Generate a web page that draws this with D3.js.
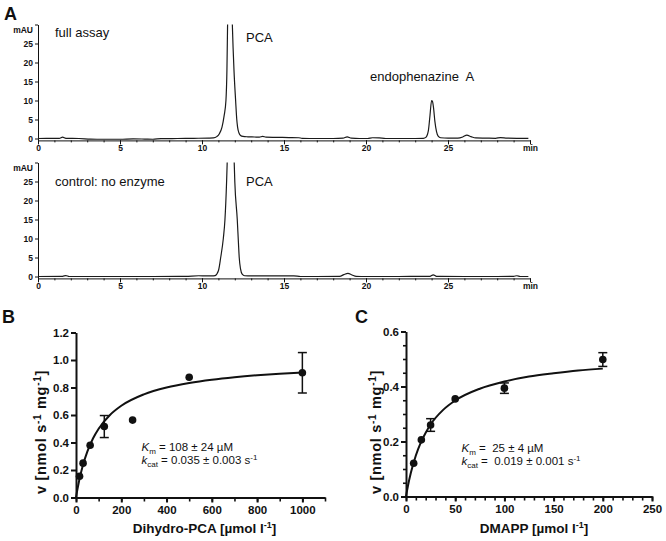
<!DOCTYPE html>
<html><head><meta charset="utf-8">
<script src="https://cdn.jsdelivr.net/npm/d3@7"></script>
<style>
body{margin:0;background:#fff}
svg{display:block}
text{font-family:"Liberation Sans",Arial,Helvetica,sans-serif;fill:#111}
</style>
</head><body>
<svg id="c" width="666" height="541"></svg>
<script>
// ---------- DATA ----------
// Panel A: HPLC chromatograms [time (min), absorbance (mAU)]
const timeTicks = [0, 5, 10, 15, 20, 25, 30];
const mauTicks = [0, 5, 10, 15, 20, 25, 30];
const fullAssayTrace = [
  [0,0],[0.5,0.05],[1.3,0.05],[1.5,0.35],[1.7,0.05],[2.5,0],[3.2,-0.15],[4,-0.2],[5,-0.2],[5.8,-0.1],
  [6.5,-0.15],[7,-0.2],[7.5,-0.05],[8.5,0],[9.5,0.05],[10.4,0.1],[10.7,0.15],[10.9,0.5],[11.05,1.2],
  [11.22,3],[11.35,6],[11.46,10],[11.52,18],[11.56,30],[11.7,60],[11.85,30],[11.95,18],[12.05,10],
  [12.12,5],[12.17,3],[12.25,1.5],[12.35,0.8],[12.5,0.55],[12.8,0.45],[13.2,0.4],[13.5,0.35],[13.7,0.55],
  [13.9,0.35],[14.5,0.3],[15.3,0.25],[15.9,0.2],[16.1,0.05],[17,0],[18,0],[18.6,0.1],[18.85,0.45],
  [19.1,0.1],[19.6,0],[20.1,0],[20.4,0.2],[20.8,0.15],[21.2,0],[22.5,0],[23.5,0.05],[23.65,0.3],
  [23.8,2],[23.9,6],[24.0,10],[24.05,9.8],[24.12,8],[24.2,4.5],[24.3,1.8],[24.4,0.6],[24.55,0.2],
  [25,0.1],[25.6,0.1],[25.9,0.4],[26.15,0.9],[26.4,0.5],[26.7,0.15],[27.3,0.1],[27.9,0.05],[28.2,0.25],
  [28.6,0.1],[29.2,0.05],[29.9,0.05]
];
const controlTrace = [
  [0,0],[1.5,0.05],[1.7,0.25],[1.9,0],[3,0],[5,0],[7,0],[9,0.05],[9.8,0.2],[10.3,0.15],[10.6,0.15],
  [10.8,0.25],[11.0,1.5],[11.14,5],[11.3,10],[11.4,15],[11.5,25],[11.55,32],[11.75,60],[11.95,32],
  [12.0,25],[12.15,15],[12.22,9],[12.27,5],[12.35,2],[12.45,0.6],[12.6,0.2],[13,0.15],[14,0.15],
  [15.6,0.15],[16,0],[17,0],[18.4,0.05],[18.65,0.5],[18.9,0.8],[19.15,0.4],[19.4,0.05],[20,0],[22,0],
  [23.9,0.05],[24.1,0.45],[24.3,0.05],[26,0],[28,0],[29,0.05],[29.2,0.2],[29.4,0],[29.9,0]
];

// Panel B: Dihydro-PCA kinetics
const pcaConc = [15.6, 31.25, 62.5, 125, 250, 500, 1000];
const pcaRate = [0.155, 0.25, 0.38, 0.516, 0.563, 0.875, 0.907];
const pcaErr  = [0, 0, 0, 0.08, 0, 0, 0.147];
const pcaFitX = [0, 5, 10, 20, 30, 50, 75, 100, 150, 200, 300, 400, 500, 600, 700, 800, 900, 1000];
const pcaFitY = [0, 0.048, 0.091, 0.167, 0.231, 0.333, 0.429, 0.5, 0.6, 0.667, 0.75, 0.8, 0.833, 0.857, 0.875, 0.889, 0.9, 0.909];
const pcaXTicks = [0, 200, 400, 600, 800, 1000];
const pcaYTicks = [0.0, 0.2, 0.4, 0.6, 0.8, 1.0, 1.2];

// Panel C: DMAPP kinetics
const dmappConc = [7.8, 15.6, 25, 50, 100, 200];
const dmappRate = [0.121, 0.206, 0.26, 0.355, 0.394, 0.498];
const dmappErr  = [0, 0, 0.023, 0, 0.019, 0.025];
const dmappFitX = [0, 2, 5, 10, 15, 20, 25, 37.5, 50, 75, 100, 125, 150, 175, 200];
const dmappFitY = [0, 0.039, 0.087, 0.149, 0.196, 0.232, 0.262, 0.314, 0.349, 0.392, 0.418, 0.436, 0.448, 0.458, 0.465];
const dmappXTicks = [0, 50, 100, 150, 200, 250];
const dmappYTicks = [0.0, 0.2, 0.4, 0.6];

// ---------- DRAW ----------
const svg = d3.select("#c");
const ink = "#111";

function styleAxis(g, width) {
  g.selectAll("path.domain").attr("stroke", ink).attr("stroke-width", width);
  g.selectAll(".tick line").attr("stroke", ink).attr("stroke-width", width);
  g.selectAll(".tick text").attr("fill", ink);
}

// ----- Panel A -----
const xA = d3.scaleLinear().domain([0, 30]).range([38, 530]);
function chromatogram(trace, y0, y30, label, labelY, id) {
  const y = d3.scaleLinear().domain([-0.5, 30]).range([y0 + 1.9, y30]);
  const g = svg.append("g");
  g.append("clipPath").attr("id", id).append("rect")
    .attr("x", xA(0)).attr("y", y(30)).attr("width", xA(30) - xA(0) + 1).attr("height", y(-0.5) - y(30) + 1);
  const gx = g.append("g").attr("transform", `translate(0,${y(-0.5)})`)
    .call(d3.axisBottom(xA).tickValues(timeTicks).tickSize(4).tickSizeOuter(0).tickPadding(1)
      .tickFormat(d => d === 30 ? "min" : d));
  gx.selectAll("text").attr("font-size", 8.5).attr("font-weight", "bold").attr("font-family", "Liberation Sans, Arial, sans-serif");
  styleAxis(gx, 1);
  const gm = g.append("g").attr("transform", `translate(0,${y(-0.5)})`)
    .call(d3.axisBottom(xA).tickValues(d3.range(0, 31, 1)).tickSize(2).tickFormat(""));
  gm.select("path.domain").remove();
  styleAxis(gm, 1);
  const gy = g.append("g").attr("transform", `translate(${xA(0)},0)`)
    .call(d3.axisLeft(y).tickValues(mauTicks).tickSize(3).tickSizeOuter(0).tickPadding(2)
      .tickFormat(d => d === 30 ? "mAU" : d));
  gy.selectAll("text").attr("font-size", 8.5).attr("font-weight", "bold").attr("font-family", "Liberation Sans, Arial, sans-serif");
  gy.selectAll(".tick").filter(d => d === 30).select("text").attr("dy", "0.9em");
  styleAxis(gy, 1);
  g.append("path").datum(trace)
    .attr("clip-path", `url(#${id})`)
    .attr("fill", "none").attr("stroke", "#1a1a1a").attr("stroke-width", 1.2)
    .attr("d", d3.line().x(d => xA(d[0])).y(d => y(d[1])).curve(d3.curveMonotoneX));
  g.append("text").attr("x", 55).attr("y", labelY).attr("font-size", 13).text(label);
  return y;
}
const yTop = chromatogram(fullAssayTrace, 138.5, 24.5, "full assay", 36.5, "clipTop");
const yBot = chromatogram(controlTrace, 276.5, 162.5, "control: no enzyme", 185.5, "clipBot");
svg.append("text").attr("x", 246).attr("y", 42).attr("font-size", 13).text("PCA");
svg.append("text").attr("x", 246).attr("y", 185.5).attr("font-size", 13).text("PCA");
svg.append("text").attr("x", 370).attr("y", 80.5).attr("font-size", 13).style("white-space", "pre").text("endophenazine  A");
svg.append("text").attr("x", 4).attr("y", 20).attr("font-size", 18).attr("font-weight", "bold").text("A");

// ----- Kinetics panels -----
function kinetics(opt) {
  const { x, y, conc, rate, err, fitX, fitY, xTicks, yTicks, xMinor, yMinor, xLabel, yLabelX, letter, letterX } = opt;
  const g = svg.append("g");
  // minor ticks
  const gxm = g.append("g").attr("transform", `translate(0,${y.range()[0]})`)
    .call(d3.axisBottom(x).tickValues(xMinor).tickSize(4).tickFormat(""));
  gxm.select("path.domain").remove(); styleAxis(gxm, 1.6);
  const gym = g.append("g").attr("transform", `translate(${x.range()[0]},0)`)
    .call(d3.axisLeft(y).tickValues(yMinor).tickSize(3).tickFormat(""));
  gym.select("path.domain").remove(); styleAxis(gym, 1.6);
  const gx = g.append("g").attr("transform", `translate(0,${y.range()[0]})`)
    .call(d3.axisBottom(x).tickValues(xTicks).tickSize(5).tickSizeOuter(0).tickPadding(3).tickFormat(d3.format("d")));
  gx.selectAll("text").attr("font-size", 11.5).attr("font-weight", "bold").attr("font-family", "Liberation Sans, Arial, sans-serif");
  styleAxis(gx, 2);
  const gy = g.append("g").attr("transform", `translate(${x.range()[0]},0)`)
    .call(d3.axisLeft(y).tickValues(yTicks).tickSize(5).tickSizeOuter(0).tickPadding(2).tickFormat(d3.format(".1f")));
  gy.selectAll("text").attr("font-size", 11.5).attr("font-weight", "bold").attr("font-family", "Liberation Sans, Arial, sans-serif");
  styleAxis(gy, 2);
  // fit curve
  const fit = fitX.map((v, i) => [v, fitY[i]]);
  g.append("path").datum(fit).attr("fill", "none").attr("stroke", ink).attr("stroke-width", 2)
    .attr("d", d3.line().x(d => x(d[0])).y(d => y(d[1])).curve(d3.curveMonotoneX));
  // error bars
  const pts = conc.map((c, i) => ({ c, v: rate[i], e: err[i] }));
  const eb = g.selectAll("g.eb").data(pts.filter(d => d.e > 0)).join("g");
  eb.append("line").attr("x1", d => x(d.c)).attr("x2", d => x(d.c)).attr("y1", d => y(d.v - d.e)).attr("y2", d => y(d.v + d.e))
    .attr("stroke", ink).attr("stroke-width", 1.5);
  eb.append("line").attr("x1", d => x(d.c) - 4.5).attr("x2", d => x(d.c) + 4.5).attr("y1", d => y(d.v - d.e)).attr("y2", d => y(d.v - d.e))
    .attr("stroke", ink).attr("stroke-width", 1.5);
  eb.append("line").attr("x1", d => x(d.c) - 4.5).attr("x2", d => x(d.c) + 4.5).attr("y1", d => y(d.v + d.e)).attr("y2", d => y(d.v + d.e))
    .attr("stroke", ink).attr("stroke-width", 1.5);
  g.selectAll("circle").data(pts).join("circle")
    .attr("cx", d => x(d.c)).attr("cy", d => y(d.v)).attr("r", 3.8).attr("fill", ink);
  // axis labels
  const xl = g.append("text").attr("x", (x.range()[0] + x.range()[1]) / 2 + opt.xLabelShift).attr("y", 533)
    .attr("text-anchor", "middle").attr("font-size", 13.5).attr("font-weight", "bold");
  xl.append("tspan").text(xLabel + " [µmol l");
  xl.append("tspan").attr("font-size", 9).attr("dy", -5).text("-1");
  xl.append("tspan").attr("dy", 5).text("]");
  const yl = g.append("text").attr("transform", `translate(${yLabelX},432) rotate(-90)`)
    .attr("text-anchor", "middle").attr("font-size", 14.5).attr("letter-spacing", 0.7).attr("font-weight", "bold");
  yl.append("tspan").text("v [nmol s");
  yl.append("tspan").attr("font-size", 10).attr("dy", -5).text("-1");
  yl.append("tspan").attr("dy", 5).text(" mg");
  yl.append("tspan").attr("font-size", 10).attr("dy", -5).text("-1");
  yl.append("tspan").attr("dy", 5).text("]");
  // panel letter
  svg.append("text").attr("x", letterX).attr("y", 323).attr("font-size", 18).attr("font-weight", "bold").text(letter);
  // annotation
  const a1 = g.append("text").attr("x", opt.annX).attr("y", opt.annY).attr("font-size", 11.5).style("white-space", "pre");
  a1.append("tspan").attr("font-style", "italic").text("K");
  a1.append("tspan").attr("font-size", 8).attr("dy", 3).text("m");
  a1.append("tspan").attr("dy", -3).text(opt.kmText);
  const a2 = g.append("text").attr("x", opt.annX).attr("y", opt.annY + 13).attr("font-size", 11.5).style("white-space", "pre");
  a2.append("tspan").attr("font-style", "italic").text("k");
  a2.append("tspan").attr("font-size", 8).attr("dy", 3).text("cat");
  a2.append("tspan").attr("dy", -3).text(opt.kcatText);
  a2.append("tspan").attr("font-size", 8).attr("dy", -4).text("-1");
}

kinetics({
  x: d3.scaleLinear().domain([0, 1100]).range([76, 325]),
  y: d3.scaleLinear().domain([0, 1.2]).range([497.5, 332.5]),
  conc: pcaConc, rate: pcaRate, err: pcaErr, fitX: pcaFitX, fitY: pcaFitY,
  xTicks: pcaXTicks, yTicks: pcaYTicks, xMinor: d3.range(0, 1101, 100), yMinor: [],
  xLabel: "Dihydro-PCA", xLabelShift: 4, yLabelX: 46, letter: "B", letterX: 2,
  annX: 141.5, annY: 450.5, kmText: " = 108 ± 24 µM", kcatText: " = 0.035 ± 0.003 s"
});
kinetics({
  x: d3.scaleLinear().domain([0, 250]).range([406, 652]),
  y: d3.scaleLinear().domain([0, 0.6]).range([496.5, 331.5]),
  conc: dmappConc, rate: dmappRate, err: dmappErr, fitX: dmappFitX, fitY: dmappFitY,
  xTicks: dmappXTicks, yTicks: dmappYTicks, xMinor: d3.range(0, 251, 10), yMinor: d3.range(0, 0.601, 0.05),
  xLabel: "DMAPP", xLabelShift: 5, yLabelX: 381, letter: "C", letterX: 355,
  annX: 461.5, annY: 451.5, kmText: " =  25 ± 4 µM", kcatText: " =  0.019 ± 0.001 s"
});
</script>
</body></html>
